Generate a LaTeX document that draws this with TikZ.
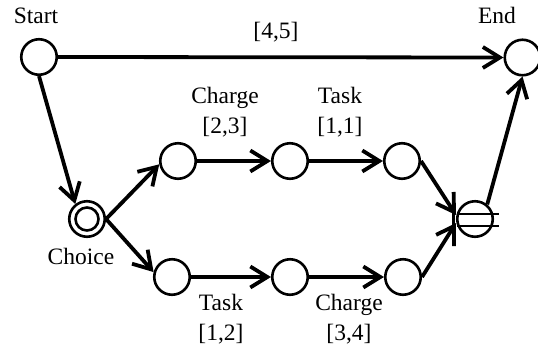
\documentclass[tikz,border=0pt]{standalone}
\usepackage{fontspec}
\setmainfont{Liberation Serif}
\usetikzlibrary{arrows.meta}
\tikzset{
  place/.style={draw,circle,line width=2.6pt,minimum size=35.5pt,inner sep=0pt},
  inner/.style={draw,circle,line width=2.6pt,minimum size=23pt,inner sep=0pt},
  flow/.style={line width=3.8pt,-{Straight Barb[length=17pt,width=21pt,line width=3.8pt]}},
  lab/.style={font=\fontsize{23.5}{30}\selectfont,align=center,inner sep=0pt}
}
\begin{document}
\begin{tikzpicture}[x=1pt,y=-1pt]
    \useasboundingbox (0,0) rectangle (538,346);
    \node[place] (Start)  at (39,57) {};
    \node[place] (End)    at (522.5,57.5) {};
    \node[place] (Choice) at (87,219) {};
    \node[inner] (ChoiceIn) at (87,219) {};
    \node[place] (Up1) at (178,161) {};
    \node[place] (Up2) at (290,161) {};
    \node[place] (Up3) at (402,161) {};
    \node[place] (Lo1) at (172,277) {};
    \node[place] (Lo2) at (290,277) {};
    \node[place] (Lo3) at (403,277) {};
    \node[place] (Join) at (475,219) {};

    % the two bars through the join
    \coordinate (BarAL) at (457,214);
    \coordinate (BarAR) at (499,214);
    \coordinate (BarBL) at (457,226);
    \coordinate (BarBR) at (499,226);
    \draw[line width=2.6pt] (BarAL)--(BarAR);
    \draw[line width=2.6pt] (BarBL)--(BarBR);
    \coordinate (BarV1) at (453.5,195);
    \coordinate (BarV2) at (453.5,243);
    \draw[line width=3.6pt] (BarV1)--(BarV2);

    \draw[flow] (Start.east)--(End.west);
    \draw[flow] (Start.south)--(Choice.128);
    \draw[flow] (Choice.east)--(Up1.190);
    \draw[flow] (Choice.east)--(Lo1.165);
    \foreach \a/\b in {Up1/Up2,Up2/Up3,Lo1/Lo2,Lo2/Lo3}{% both rows
      \draw[flow] (\a.east)--(\b.west);
    }
    \coordinate (JoinUp) at (456,215);
    \coordinate (JoinLo) at (456,223);
    \draw[flow] (Up3.east)--(JoinUp);
    \draw[flow] (Lo3.east)--(JoinLo);
    \draw[flow] (Join.50)--(End.south);

    \node[lab,anchor=base] (tStart)  at (36,23) {Start};
    \node[lab,anchor=base] (tEnd)    at (497,23) {End};
    \node[lab,anchor=base] (tTop)    at (276,38) {[4,5]};
    \node[lab,anchor=base] (tChoice) at (81,264) {Choice};
    \node[lab] (tUp1) at (225,112.5) {Charge\\{[2,3]}};
    \node[lab] (tUp2) at (340,112.5) {Task\\{[1,1]}};
    \node[lab] (tLo1) at (221,319.5) {Task\\{[1,2]}};
    \node[lab] (tLo2) at (349,319.5) {Charge\\{[3,4]}};
\end{tikzpicture}
\end{document}
